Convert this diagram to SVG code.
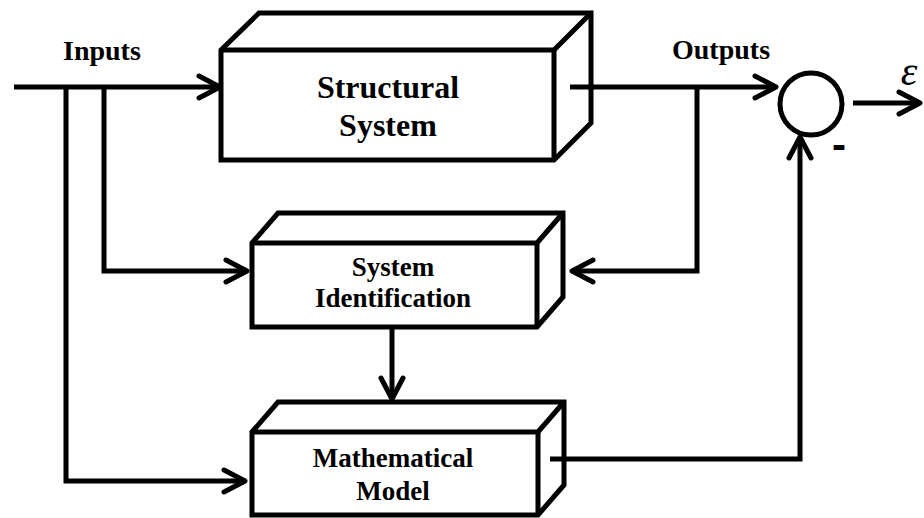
<svg xmlns="http://www.w3.org/2000/svg" width="924" height="518" viewBox="0 0 924 518">
  <style>
    .face { fill: #ffffff; stroke: #000000; stroke-width: 5; stroke-linejoin: miter; }
    .edge { fill: none; stroke: #000000; stroke-width: 5; stroke-linejoin: miter; }
    .wire { fill: none; stroke: #000000; stroke-width: 5; stroke-linejoin: miter; }
    .lbl { font-family: "Liberation Serif", "Times New Roman", serif; font-weight: bold; fill: #000000; }
    .big { font-size: 32px; }
    .mid { font-size: 27px; }
  </style>
  <defs>
    <marker id="arrow" markerUnits="userSpaceOnUse" viewBox="-26 -15 30 30" refX="0" refY="0" markerWidth="30" markerHeight="30" orient="auto" overflow="visible">
      <path d="M-21,-11 L0,0 L-21,11" fill="none" stroke="#000000" stroke-width="5" stroke-linecap="round" stroke-linejoin="round"/>
    </marker>
  </defs>
  <rect width="924" height="518" fill="#ffffff"/>

  <!-- Structural System block: silhouette, then the front-face edges -->
  <g id="structural-system">
    <polygon class="face" points="221,50 259,13 591,13 591,123 554,160 221,160"/>
    <polyline class="edge" points="221,50 554,50 591,13"/>
    <line class="edge" x1="554" y1="50" x2="554" y2="160"/>
    <text class="lbl big" x="388" y="98" text-anchor="middle">Structural</text>
    <text class="lbl big" x="388" y="136" text-anchor="middle">System</text>
  </g>

  <!-- System Identification block -->
  <g id="system-identification">
    <polygon class="face" points="252,243 278,213 563,213 563,297 537,327 252,327"/>
    <polyline class="edge" points="252,243 537,243 563,213"/>
    <line class="edge" x1="537" y1="243" x2="537" y2="327"/>
    <text class="lbl mid" x="393" y="276" text-anchor="middle">System</text>
    <text class="lbl mid" x="393" y="307" text-anchor="middle">Identification</text>
  </g>

  <!-- Mathematical Model block -->
  <g id="mathematical-model">
    <polygon class="face" points="252,432 278,402 564,402 564,485 538,515 252,515"/>
    <polyline class="edge" points="252,432 538,432 564,402"/>
    <line class="edge" x1="538" y1="432" x2="538" y2="515"/>
    <text class="lbl mid" x="393" y="467" text-anchor="middle">Mathematical</text>
    <text class="lbl mid" x="393" y="500" text-anchor="middle">Model</text>
  </g>

  <!-- Comparator -->
  <g id="comparator">
    <circle cx="811" cy="104" r="31" fill="#ffffff" stroke="#000000" stroke-width="5"/>
    <text x="839" y="159" text-anchor="middle" font-family="Liberation Sans, Arial, sans-serif" font-weight="bold" font-size="42px">-</text>
  </g>

  <!-- Signal labels -->
  <g id="labels">
    <text class="lbl" x="63" y="60" font-size="28px">Inputs</text>
    <text class="lbl" x="672" y="59" font-size="28px">Outputs</text>
    <text x="909" y="85" text-anchor="middle" font-family="Liberation Serif, 'Times New Roman', serif" font-style="italic" font-size="42px">ε</text>
  </g>

  <!-- Signal paths -->
  <g id="connectors">
    <path class="wire" d="M14,87 H220" marker-end="url(#arrow)"/>
    <path class="wire" d="M104,87 V271 H247" marker-end="url(#arrow)"/>
    <path class="wire" d="M66,87 V481 H245" marker-end="url(#arrow)"/>
    <path class="wire" d="M570,87 H776" marker-end="url(#arrow)"/>
    <path class="wire" d="M697,87 V271 H572" marker-end="url(#arrow)"/>
    <path class="wire" d="M392,327 V399" marker-end="url(#arrow)"/>
    <path class="wire" d="M550,459 H800 V137" marker-end="url(#arrow)"/>
    <path class="wire" d="M853,103 H920" marker-end="url(#arrow)"/>
  </g>
</svg>
